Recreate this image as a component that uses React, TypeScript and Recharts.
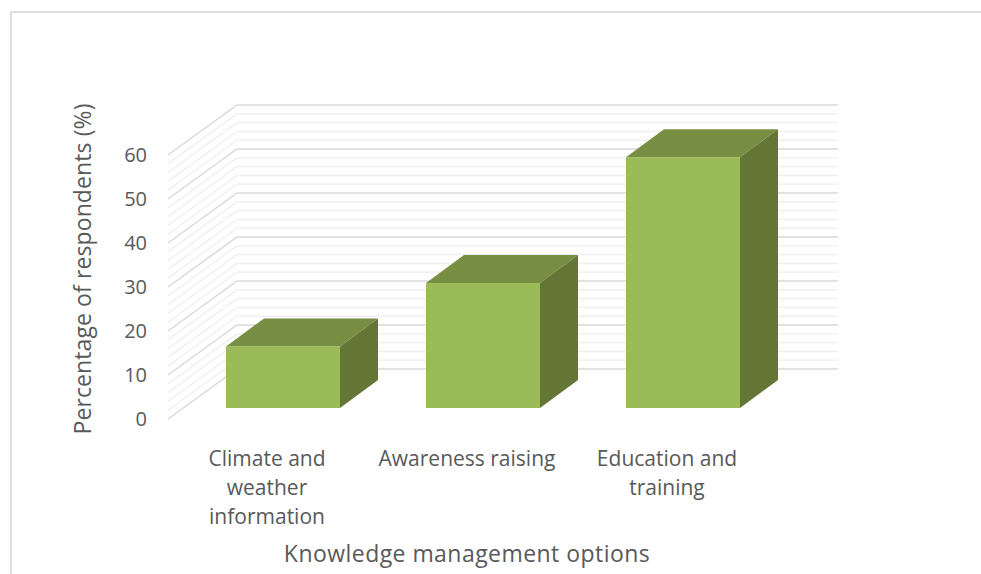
import { Bar, BarChart, ReferenceLine, XAxis, YAxis } from 'recharts';

const categories = ['Climate and weather information', 'Awareness raising', 'Education and training'];
const respondents = [14, 28.4, 57];
const categoryLines = [['Climate and', 'weather', 'information'], ['Awareness raising'], ['Education and', 'training']];
const yTicks = [0, 10, 20, 30, 40, 50, 60];
const minorGrid = [2, 4, 6, 8, 12, 14, 16, 18, 22, 24, 26, 28, 32, 34, 36, 38, 42, 44, 46, 48, 52, 54, 56, 58];

const data = categories.map((name, i) => ({ name, respondents: respondents[i] }));

const FONT = '"Open Sans", sans-serif';
const TEXT = '#595959';

// 3D box: front face from the scale, top and side faces pushed back
function Box({ x, y, width, height }: any) {
  const dx = 38;
  const dy = 28;
  const r = x + width;
  const b = y + height;
  return (
    <g>
      <polygon points={`${x},${y} ${x + dx},${y - dy} ${r + dx},${y - dy} ${r},${y}`} fill="#778E43" />
      <polygon points={`${r},${y} ${r + dx},${y - dy} ${r + dx},${b - dy} ${r},${b}`} fill="#647635" />
      <rect x={x} y={y} width={width} height={height} fill="#9BBB59" />
    </g>
  );
}

// wall + side wall gridline, drawn from the line's position on the y scale
function gridShape(stroke: string) {
  return function GridLine(props: any) {
    const y = props.y1 ?? props.y;
    return (
      <polyline
        points={`168,${y + 11} 237,${y - 39} 838,${y - 39}`}
        fill="none"
        stroke={stroke}
        strokeWidth={1.5}
      />
    );
  };
}

function CategoryTick({ x, y, index }: any) {
  const lines = categoryLines[index] ?? [];
  return (
    <text x={x - 16} y={y + 52} textAnchor="middle" fontFamily={FONT} fontSize={21} fill={TEXT}>
      {lines.map((l, i) => (
        <tspan key={l} x={x - 16} dy={i === 0 ? 0 : 29}>
          {l}
        </tspan>
      ))}
    </text>
  );
}

function ValueTick({ y, payload }: any) {
  return (
    <text x={147} y={y + 18} textAnchor="end" fontFamily={FONT} fontSize={20} fill={TEXT}>
      {payload.value}
    </text>
  );
}

export default function App() {
  return (
    <div style={{ position: 'absolute', left: 0, top: 0, width: 981, height: 574, overflow: 'hidden', background: '#fff' }}>
      <div
        style={{
          position: 'absolute',
          left: 10,
          top: 11,
          width: 990,
          height: 600,
          borderTop: '2px solid #dedede',
          borderLeft: '2px solid #dedede',
        }}
      />
      <BarChart
        width={981}
        height={574}
        data={data}
        margin={{ top: 144, right: 198, bottom: 6, left: 123 }}
        style={{ position: 'absolute', left: 0, top: 0 }}
      >
        {minorGrid.map((v) => (
          <ReferenceLine key={v} y={v} shape={gridShape('#f0f0f0')} ifOverflow="visible" zIndex={-10} />
        ))}
        {yTicks.map((v) => (
          <ReferenceLine key={v} y={v} shape={gridShape('#d9d9d9')} ifOverflow="visible" zIndex={-5} />
        ))}
        <XAxis
          dataKey="name"
          axisLine={false}
          tickLine={false}
          height={160}
          interval={0}
          tick={<CategoryTick />}
          tickMargin={0}
          label={{
            value: 'Knowledge management options',
            position: 'insideBottom',
            dx: -16,
            dy: -1,
            style: { fontFamily: FONT, fontSize: 23, letterSpacing: 0.45, fill: TEXT },
          }}
        />
        <YAxis
          domain={[0, 60]}
          ticks={yTicks}
          width={60}
          axisLine={false}
          tickLine={false}
          tick={<ValueTick />}
          label={{
            value: 'Percentage of respondents (%)',
            angle: -90,
            position: 'left',
            dx: -35,
            dy: -7,
            style: { fontFamily: FONT, fontSize: 23, letterSpacing: 0.1, fill: TEXT, textAnchor: 'middle' },
          }}
        />
        <Bar dataKey="respondents" barSize={114} shape={<Box />} isAnimationActive={false} zIndex={10} />
      </BarChart>
    </div>
  );
}
